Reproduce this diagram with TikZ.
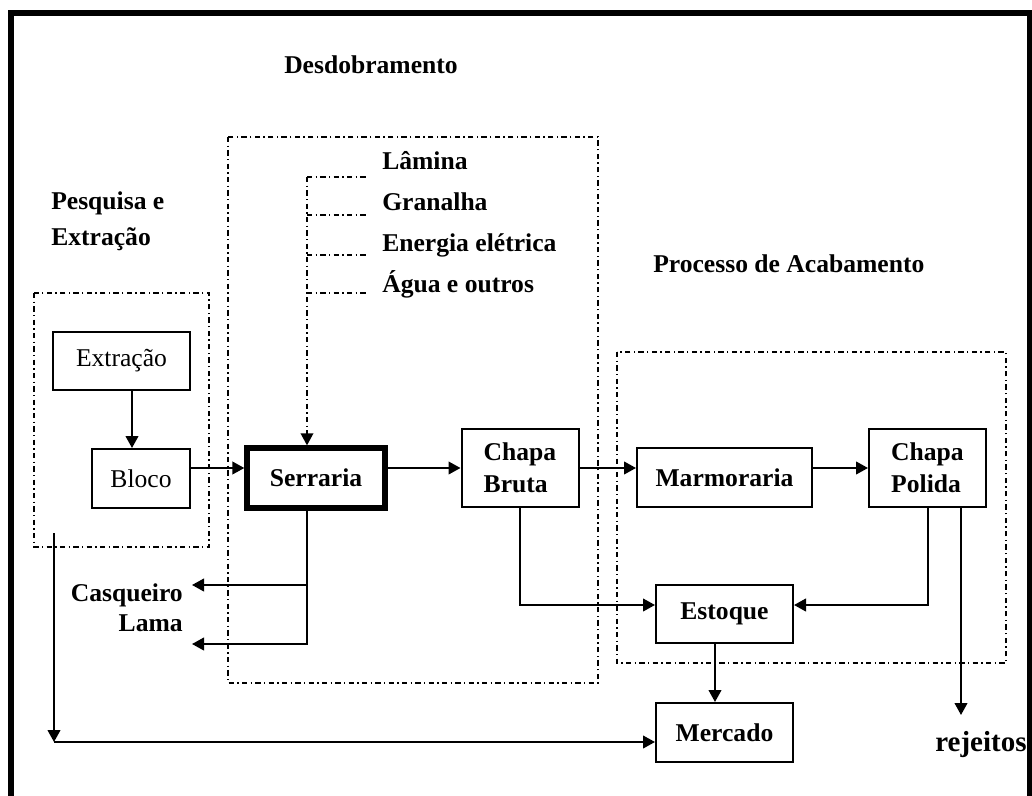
\documentclass[tikz,border=0pt]{standalone}
\usepackage{fontspec}
\setmainfont{Liberation Serif}
\usetikzlibrary{arrows.meta,calc}
\newcommand{\fsz}{\fontsize{19.2}{24}\selectfont}
\tikzset{
	box/.style={draw, line width=1.5pt, align=left, inner sep=2pt, font=\fsz\bfseries},
	plainbox/.style={box, font=\fsz},
	mainbox/.style={box, line width=4pt},
	group/.style={draw, line width=1pt, dash pattern=on 4pt off 2.5pt on 1pt off 2.5pt},
	feed/.style={group, -{Triangle[length=9pt, width=9.5pt]}},
	flow/.style={-{Triangle[length=9pt, width=9.5pt]}, line width=1.5pt},
	title/.style={inner sep=0pt, align=left, font=\fsz\bfseries}
}
\begin{document}
\begin{tikzpicture}[x=0.75pt, y=-0.75pt]
	\useasboundingbox (0,0) rectangle (1032,796);
	% outer frame
	\draw[line width=4.5pt] (11,800) -- (11,13) -- (1029.5,13) -- (1029.5,800);
	% stage frames
	\draw[group] (34,293) rectangle (209,547);
	\draw[group] (228,137) rectangle (598,683);
	\draw[group] (617,352) rectangle (1006,663);
	% stage titles
	\node[title, anchor=west, font=\fontsize{19.2}{27}\selectfont\bfseries] (tpesq) at (51,221) {Pesquisa e\\Extração};
	\node[title] (tdesd) at (371,65) {Desdobramento};
	\node[title, anchor=west] (tacab) at (653,264) {Processo de Acabamento};
	% process boxes
	\node[plainbox, minimum width=102.75pt, minimum height=43.5pt] (extr) at (121.5,361) {Extração};
	\node[plainbox, minimum width=73.5pt, minimum height=44.25pt] (bloco) at (141,478.5) {Bloco};
	\node[mainbox, minimum width=103.5pt, minimum height=45pt] (serraria) at (316,478) {Serraria};
	\node[box, minimum width=87.75pt, minimum height=58.5pt] (bruta) at (520,468) {Chapa\\Bruta};
	\node[box, minimum width=131.25pt, minimum height=44.25pt] (marm) at (724.5,477.5) {Marmoraria};
	\node[box, minimum width=87.75pt, minimum height=58.5pt] (polida) at (927.5,468) {Chapa\\Polida};
	\node[box, minimum width=102.75pt, minimum height=43.5pt] (estoque) at (724.5,614) {Estoque};
	\node[box, minimum width=102.75pt, minimum height=44.25pt] (mercado) at (724.5,732.5) {Mercado};
	% inputs and residues
	\node[title, anchor=west, font=\fontsize{19.2}{30.75}\selectfont\bfseries] (insumos) at (382,225) {Lâmina\\Granalha\\Energia elétrica\\Água e outros};
	\node[title, anchor=east, align=right, font=\fontsize{19.2}{22.5}\selectfont\bfseries] (resid) at (183,608) {Casqueiro\\Lama};
	\node[title, anchor=west, font=\fontsize{21.75}{26}\selectfont\bfseries] (rejeitos) at (935,745) {rejeitos};
	% helper coordinates
	\coordinate (fy) at (0,468);
	\coordinate (ey) at (0,605);
	\coordinate (eb) at (132,0);
	\coordinate (em) at (715,0);
	\coordinate (cq) at (192,585);
	\coordinate (lm) at (192,644);
	\coordinate (ps) at (54,533);
	\coordinate (pm) at (54,742);
	\coordinate (rj) at (961,715);
	% input feed
	\foreach \y [count=\i] in {177,215,255,293} {
		\coordinate (in\i) at (307,\y);
		\draw[group] (in\i) -- ++(59,0);
	}
	\draw[feed] (in1) -- (in1 |- serraria.north);
	% main flow
	\draw[flow] (eb |- extr.south) -- (eb |- bloco.north);
	\draw[flow] (bloco.east |- fy) -- (serraria.west |- fy);
	\draw[flow] (serraria.east |- fy) -- (bruta.west |- fy);
	\draw[flow] (bruta.east |- fy) -- (marm.west |- fy);
	\draw[flow] (marm.east |- fy) -- (polida.west |- fy);
	% residues
	\draw[flow] (in1 |- serraria.south) -- (in1 |- lm) -- (lm);
	\draw[flow] (in1 |- cq) -- (cq);
	% stock and market
	\draw[flow] (bruta.south) -- (bruta.south |- ey) -- (estoque.west |- ey);
	\draw[flow] (polida.south) -- (polida.south |- ey) -- (estoque.east |- ey);
	\draw[flow] (em |- estoque.south) -- (em |- mercado.north);
	\draw[flow] (rj |- polida.south) -- (rj);
	\draw[flow] (ps) -- (pm);
	\draw[flow] (pm) -- (pm -| mercado.west);
\end{tikzpicture}
\end{document}
